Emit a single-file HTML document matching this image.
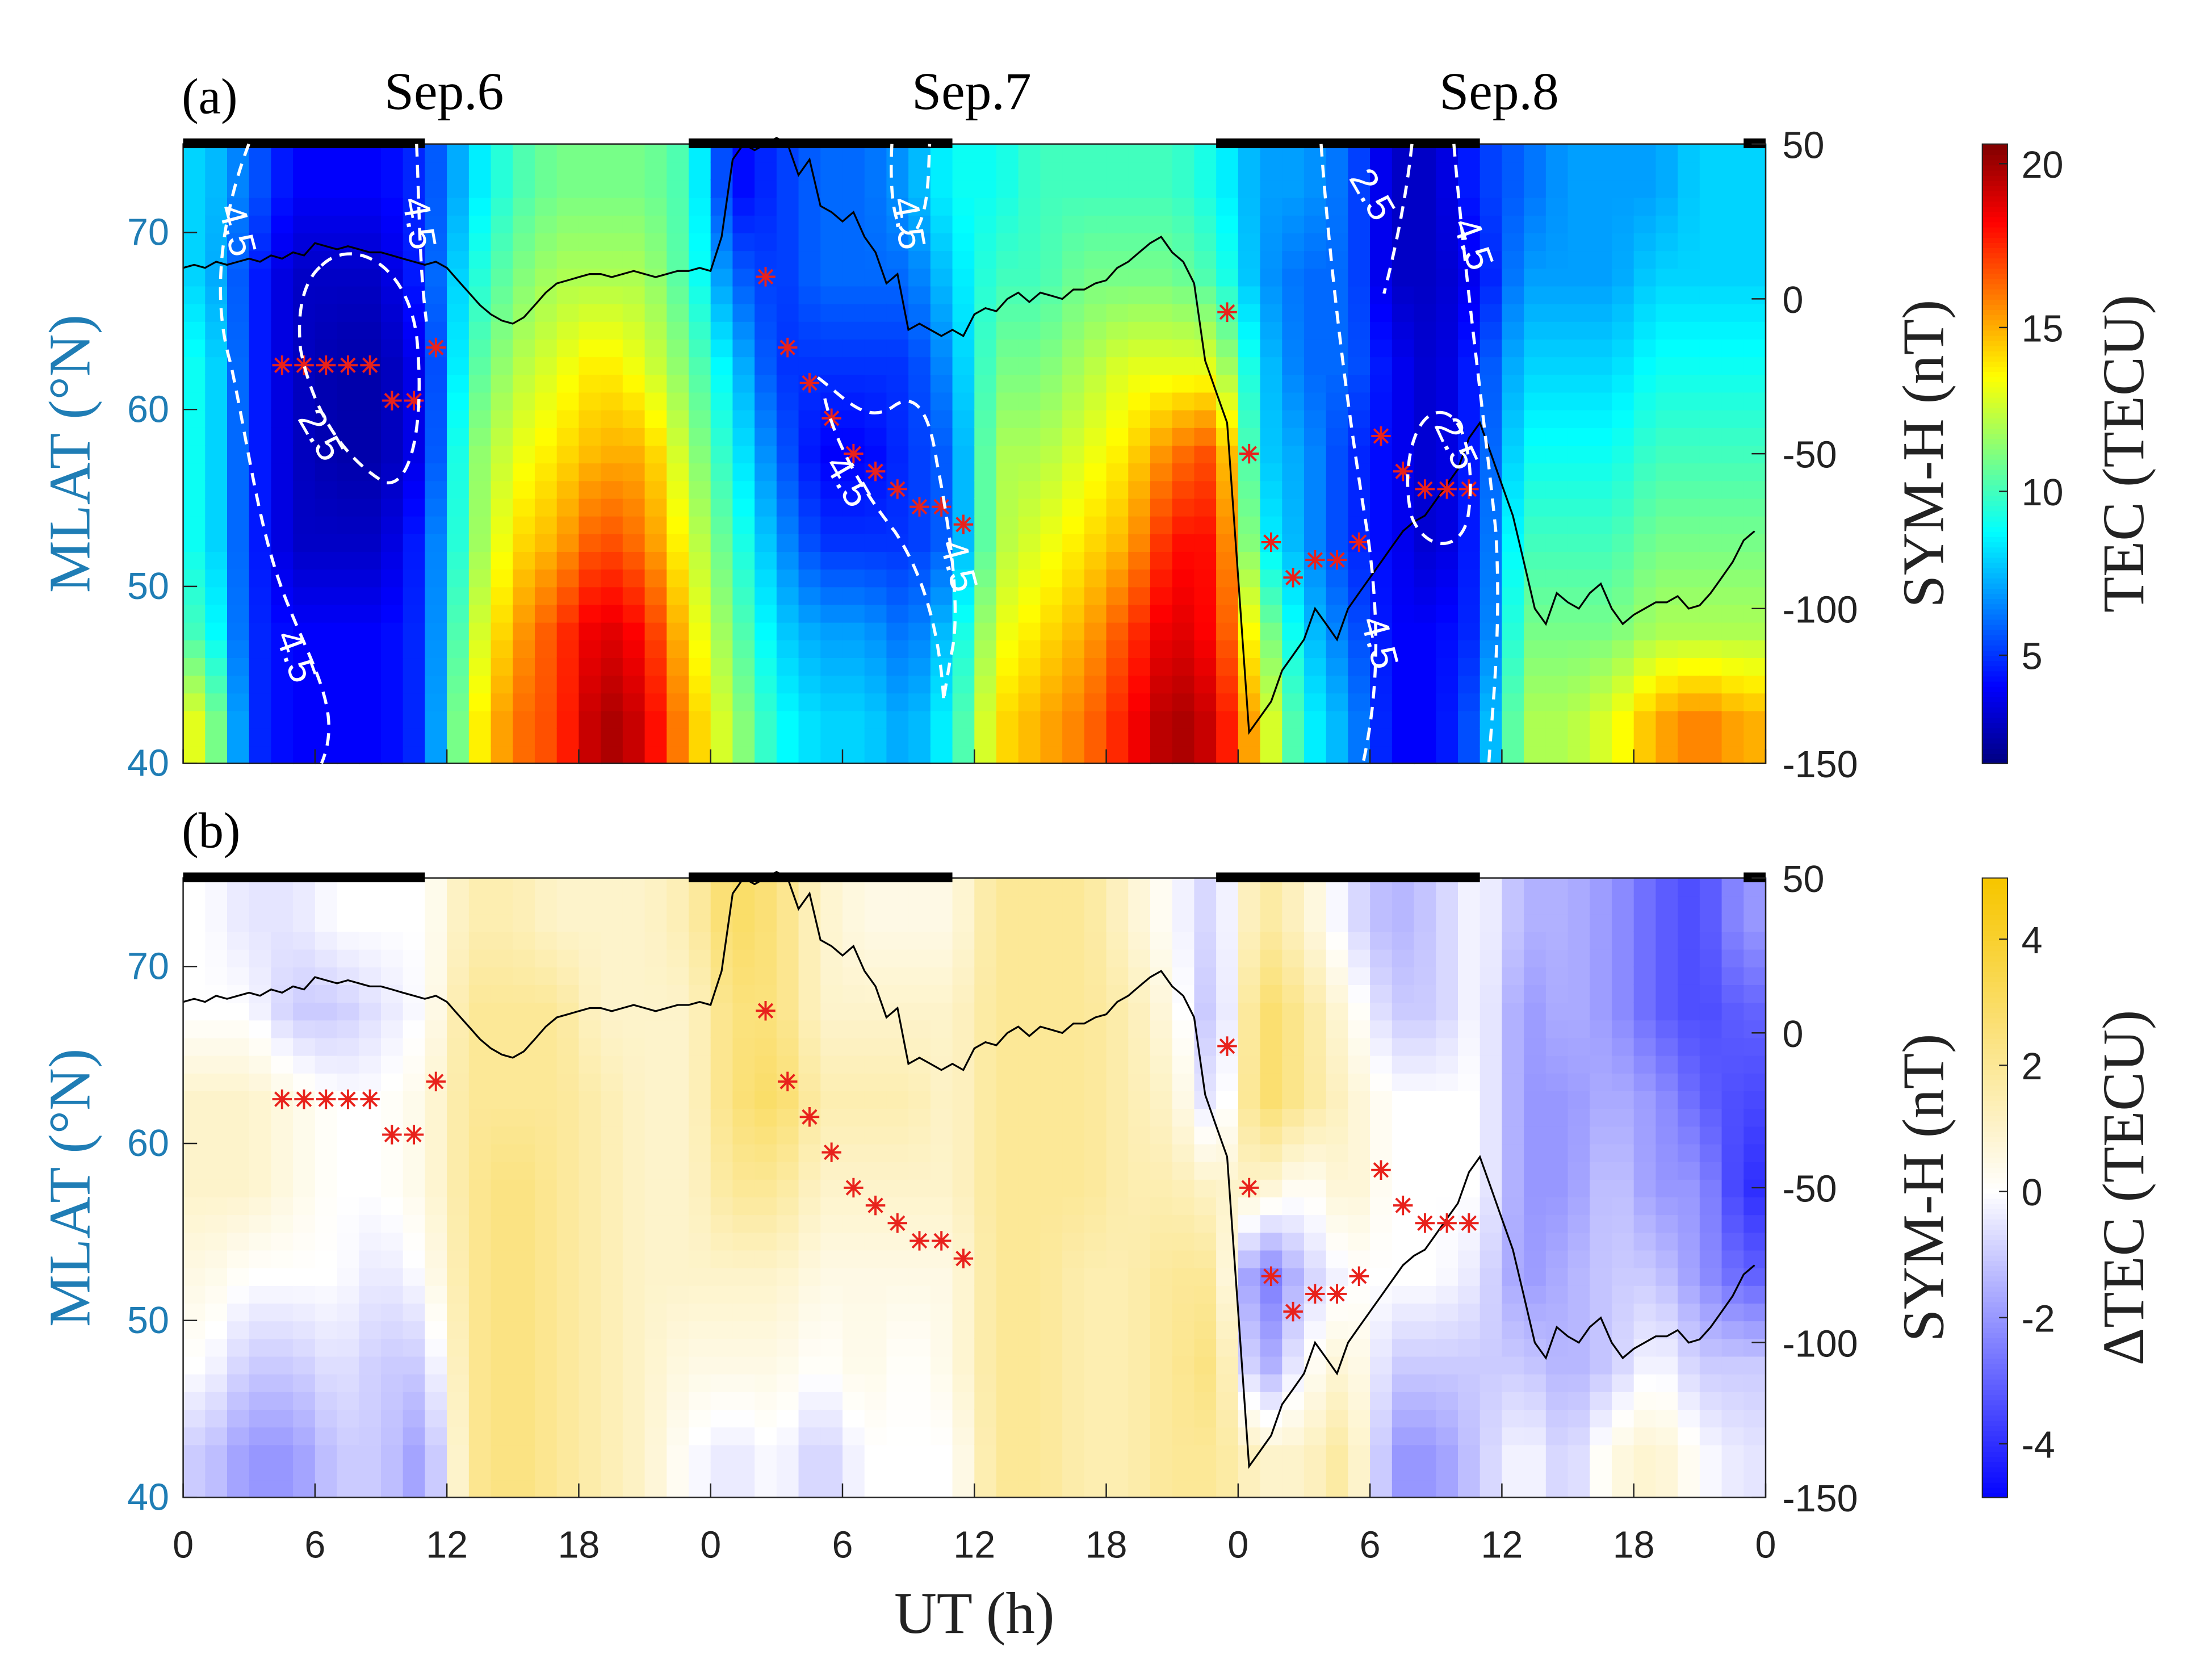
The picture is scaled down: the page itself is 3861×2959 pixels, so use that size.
<!DOCTYPE html>
<html><head><meta charset="utf-8"><style>
html,body{margin:0;padding:0;background:#fff;}
svg{display:block;}
.tk{font-family:"Liberation Sans",sans-serif;font-size:27px;}
.sf{font-family:"Liberation Serif",serif;}
</style></head><body>
<svg id="chart" width="3861" height="2959" viewBox="0 0 1568 1201.6" preserveAspectRatio="none" xmlns="http://www.w3.org/2000/svg">
<g id="layer"></g>
</svg>
<script>
// ---- data ----
const dayLabels = ["Sep.6","Sep.7","Sep.8"];
const xTickLabels = ["0","6","12","18","0","6","12","18","0","6","12","18","0"];
const latTicks = [40,50,60,70];
const symTicks = [50,0,-50,-100,-150];
const tecTicks = [5,10,15,20];
const dtecTicks = [4,2,0,-2,-4];
// TEC per 2-hour column, rows bottom (40-45) -> top (70-75)
const tecGrid = [
[13,10,9,9,9,8,8],[5,5,5,5,5,5,6],[4,4,3,3,3,3,4],[4,4,3,2.5,2.5,3,4],[4,4,3,2.5,2.5,3,4],[5,5,5,4,4,5,5],
[13,12,11,11,10,9,8],[16,15,14,13,12,11,10],[17,17,15,14,13,12,11],[20,19,17,15,14,12,11],[19,18,16,15,13,12,11],[15,14,13,12,11,10,10],
[12,11,10,9,8,6,4],[9,8,7,6,5,5,5],[8,7,5,4,5,6,6],[8,7,5,4,5,6,6],[7,6,5,5,5,6,7],[9,8,6,6,7,8,9],
[14,13,12,12,11,10,9],[15,14,13,12,11,10,10],[16,15,14,13,12,11,10],[18,17,15,14,13,11,10],[20,19,18,16,13,11,10],[19,18,18,17,13,10,9],
[14,12,9,8,8,7,7],[9,8,7,7,6,6,7],[7,6,5,5,6,6,6],[4,4,4,4,4,3,3],[4,4,3,3,3,3,3],[6,5,5,5,5,4,5],
[12,11,10,9,8,7,6],[12,11,10,9,8,7,7],[13,11,10,9,8,7,7],[15,12,11,10,9,8,7],[16,12,11,10,9,8,8],[15,12,11,10,9,8,8]];
const dtecGrid = [
[-1,0,0.5,1,1,0,0],[-2,-1,0,1,1,0,-0.5],[-2,-1,0,0.5,0.5,-1,-0.5],[-1,-0.5,0,0,0,-1,0],[-1,-1,-0.5,0,0,-0.5,0],[-2,-1,0,0.5,0.5,0,0],
[2,2,2,2,2,2,1.5],[2.5,2.5,2.5,2.5,2,2,1.5],[2,2,2,2,2,2,1],[1.5,1.5,1.5,1.5,1.5,1,1],[1,1,1,1,1,1,1],[0,0.5,1,1,1,1,1.5],
[-0.5,0.5,1,2,2.5,2.5,3],[0,0.5,1,2,3,2.5,2.5],[-1,0,0.5,1,1.5,1,1],[0,0.5,0.5,1,1.5,1,0.5],[0,0,0.5,1,1.5,1,0.5],[0,0.5,0.5,1,1,1,0.5],
[2,2,2,2,2,2,2],[2,2,2,2,2,2,2],[1.5,1.5,1.5,2,2,2,2],[1.5,1.5,1.5,1.5,1.5,1.5,1],[2,2,2,1.5,1,0.5,0],[2,2.5,2,1,-1,-1.5,-1],
[1,-2,-3,1,3,3,2],[1,0,-1,0,2,2,1],[2,1,0,1,1,0.5,-0.5],[-2,-1,0,0,0,-1,-1.5],[-2,-1,0,0,0,-1,-1],[-1,-1,-0.5,0,0,0,0],
[0,-1,-2,-2,-2,-2,-1.5],[-1,-1.5,-1.5,-2,-2,-1.5,-1.5],[0.5,-1,-1,-1,-1.5,-2,-2],[1,0,-1,-2,-2,-3,-3],[0,-1,-2,-2,-3,-3.5,-3.5],[-0.5,-1,-3,-4,-3.5,-3,-2]];
// half-hourly SYM-H (nT), hour 0..72 step 0.5
const symH = [10,11,10,12,11,12,13,12,14,13,15,14,18,17,16,17,16,15,15,14,13,12,11,12,10,6,2,-2,-5,-7,-8,-6,-2,2,5,6,7,8,8,7,8,9,8,7,8,9,9,10,9,
20,45,50,48,50,52,50,40,45,30,28,25,28,20,15,5,8,-10,-8,-10,-12,-10,-12,-5,-3,-4,0,2,-1,2,1,0,3,3,5,6,10,12,15,18,20,15,12,5,-20,-30,-40,
-90,-140,-135,-130,-120,-115,-110,-100,-105,-110,-100,-95,-90,-85,-80,-75,-72,-70,-65,-60,-55,-45,-40,-50,-60,-70,-85,-100,-105,-95,-98,-100,-95,-92,-100,-105,-102,-100,-98,-98,-96,-100,-99,-95,-90,-85,-78,-75];
const starHours = [4.5,5.5,6.5,7.5,8.5,9.5,10.5,11.5,26.5,27.5,28.5,29.5,30.5,31.5,32.5,33.5,34.5,35.5,47.5,48.5,49.5,50.5,51.5,52.5,53.5,54.5,55.5,56.5,57.5,58.5];
const starLats = [62.5,62.5,62.5,62.5,62.5,60.5,60.5,63.5,67.5,63.5,61.5,59.5,57.5,56.5,55.5,54.5,54.5,53.5,65.5,57.5,52.5,50.5,51.5,51.5,52.5,58.5,56.5,55.5,55.5,55.5];

// ---- helpers ----
const NS="http://www.w3.org/2000/svg";
const layer=document.getElementById('layer');
function mk(tag,attrs,parent){const e=document.createElementNS(NS,tag);for(const k in attrs)e.setAttribute(k,attrs[k]);(parent||layer).appendChild(e);return e;}
const X0=131,X1=1263,H=443;
const xS=h=>X0+h*(X1-X0)/72;
const yLat=(l,top)=>top+H-(l-40)/35*H;
const ySym=(v,top)=>top+(50-v)/200*H;
function jet(t){t=Math.max(0,Math.min(1,t));const c=x=>Math.round(255*Math.max(0,Math.min(1,x)));
return `rgb(${c(1.5-Math.abs(4*t-3))},${c(1.5-Math.abs(4*t-2))},${c(1.5-Math.abs(4*t-1))})`;}
function byw(v){let t=Math.max(-1,Math.min(1,v/4.9));
if(t<0){t=-t;return `rgb(${Math.round(255*(1-t))},${Math.round(255*(1-t))},255)`;}
return `rgb(${Math.round(255-8*t)},${Math.round(255-57*t)},${Math.round(255*(1-t))})`;}
function sample(grid,h,l){let ci=(h-1)/2,rj=(l-42.5)/5;
ci=Math.max(0,Math.min(35,ci));rj=Math.max(0,Math.min(6,rj));
const i0=Math.floor(ci),j0=Math.floor(rj),i1=Math.min(35,i0+1),j1=Math.min(6,j0+1),fi=ci-i0,fj=rj-j0;
return (grid[i0][j0]*(1-fi)+grid[i1][j0]*fi)*(1-fj)+(grid[i0][j1]*(1-fi)+grid[i1][j1]*fi)*fj;}

function panel(top,grid,colorFn,label,cbTicks,cbMin,cbMax,cbTitle,tag){
  const g=mk('g',{});
  
  
  const hm=mk('g',{},g);
  
  
  for(let h=0;h<72;h++)for(let l=40;l<75;l++){
    const v=sample(grid,h+0.5,l+0.5);
    const r=mk('rect',{x:xS(h),y:yLat(l+1,top),width:(X1-X0)/72+0.6,height:H/35+0.6,fill:colorFn(v)},hm);
    
    
  }
  let d='';symH.forEach((v,i)=>{d+=(i?'L':'M')+xS(i*0.5).toFixed(1)+','+ySym(v,top).toFixed(1);});
  const ln=mk('path',{d:d,fill:'none',stroke:'#000','stroke-width':1.3},g);
  
  
  starHours.forEach((h,i)=>{const cx=xS(h),cy=yLat(starLats[i],top),s=7;
    const st=mk('path',{d:`M${cx-s},${cy}H${cx+s}M${cx},${cy-s}V${cy+s}M${cx-5},${cy-5}L${cx+5},${cy+5}M${cx-5},${cy+5}L${cx+5},${cy-5}`,stroke:'#e8221c','stroke-width':1.6,fill:'none'},g);
    
    });
  const fr=mk('rect',{x:X0,y:top,width:X1-X0,height:H,fill:'none',stroke:'#222','stroke-width':1},g);
  
  
  [[0,11],[23,35],[47,59],[71,72]].forEach(b=>{const r=mk('rect',{x:xS(b[0]),y:top-4,width:xS(b[1])-xS(b[0]),height:7,fill:'#000'},g);
    
    });
  latTicks.forEach(l=>{const y=yLat(l,top);
    mk('line',{x1:X0,x2:X0+10,y1:y,y2:y,stroke:'#222'},g);
    const t=mk('text',{x:X0-10,y:y+9,'text-anchor':'end',class:'tk',fill:'#1f7db5'},g);t.textContent=l;
    
    });
  const yl=mk('text',{x:0,y:0,transform:`translate(64,${top+H/2}) rotate(-90)`,'text-anchor':'middle',class:'sf','font-size':42,fill:'#1f7db5'},g);
  yl.textContent='MLAT (°N)';
  
  
  symTicks.forEach(v=>{const y=ySym(v,top);
    mk('line',{x1:X1-10,x2:X1,y1:y,y2:y,stroke:'#222'},g);
    const t=mk('text',{x:X1+12,y:y+10,class:'tk',fill:'#222'},g);t.textContent=v;
    
    });
  const yr=mk('text',{x:0,y:0,transform:`translate(1390,${top+H/2}) rotate(-90)`,'text-anchor':'middle',class:'sf','font-size':42,fill:'#222'},g);
  yr.textContent='SYM-H (nT)';
  
  
  xTickLabels.forEach((s,i)=>{const x=xS(i*6);mk('line',{x1:x,x2:x,y1:top+H,y2:top+H-10,stroke:'#222'},g);});
  const cb=mk('g',{},g);
  
  
  const n=120;for(let k=0;k<n;k++){const v=cbMin+(cbMax-cbMin)*(k+0.5)/n;
    mk('rect',{x:1418,y:top+H-(k+1)*H/n,width:18,height:H/n+0.6,fill:colorFn(v)},cb);}
  mk('rect',{x:1418,y:top,width:18,height:H,fill:'none',stroke:'#222','stroke-width':0.8},cb);
  cbTicks.forEach(v=>{const y=top+H-(v-cbMin)/(cbMax-cbMin)*H;
    mk('line',{x1:1430,x2:1436,y1:y,y2:y,stroke:'#222'},cb);
    const t=mk('text',{x:1446,y:y+10,class:'tk',fill:'#222'},cb);t.textContent=v;
    
    });
  const ct=mk('text',{x:0,y:0,transform:`translate(1533,${top+H/2}) rotate(-90)`,'text-anchor':'middle',class:'sf','font-size':42,fill:'#222'},g);
  ct.textContent=cbTitle;
  
  
  const pl=mk('text',{x:130,y:top-22,class:'sf','font-size':36,fill:'#000'},g);pl.textContent=label;
  
  
  return g;
}
panel(103,tecGrid,v=>jet((v-1.7)/(20.6-1.7)),'(a)',tecTicks,1.7,20.6,'TEC (TECU)','a');
panel(628,dtecGrid,byw,'(b)',dtecTicks,-4.85,4.97,'ΔTEC (TECU)','b');

dayLabels.forEach((s,i)=>{const t=mk('text',{x:xS(12+24*i)-2,y:78,'text-anchor':'middle',class:'sf','font-size':38,fill:'#000'});t.textContent=s;
  
  });
xTickLabels.forEach((s,i)=>{const t=mk('text',{x:xS(i*6),y:1114,'text-anchor':'middle',class:'tk',fill:'#222'});t.textContent=s;
  
  });
const xt=mk('text',{x:697,y:1168,'text-anchor':'middle',class:'sf','font-size':42,fill:'#222'});xt.textContent='UT (h)';



const cg=mk('g',{fill:'none',stroke:'#fff','stroke-width':2.2,'stroke-dasharray':'9,6'});


['M178,103 C160,150 150,210 165,260 C178,320 185,380 205,430 C225,480 245,510 230,546',
 'M230,190 C250,170 290,185 298,240 C304,300 295,350 275,345 C250,330 225,300 215,250 C212,220 218,200 230,190',
 'M298,103 C300,150 300,190 305,230',
 'M638,103 C636,140 640,175 655,165 C665,150 664,120 665,103',
 'M585,270 C605,285 620,305 640,290 C655,280 665,295 670,330 C680,380 688,440 680,470 L675,500 M590,285 C598,320 620,355 640,380 C660,410 672,450 675,500',
 'M945,103 C952,200 965,300 978,380 C988,450 985,500 975,546',
 'M1010,103 C1005,150 995,190 990,210',
 'M1040,103 C1048,200 1062,300 1070,380 C1074,450 1068,500 1065,546',
 'M1030,295 C1050,295 1055,340 1050,370 C1045,395 1020,395 1010,370 C1002,340 1010,295 1030,295'
].forEach(d=>{const p=mk('path',{d:d},cg);});
[['4.5',168,165,75],['2.5',228,312,60],['4.5',298,160,80],['4.5',210,470,70],['4.5',648,160,80],['4.5',605,345,60],['4.5',684,405,75],['2.5',980,140,60],['4.5',1052,175,70],['2.5',1040,318,65],['4.5',985,460,75]]
.forEach(a=>{const t=mk('text',{x:a[1],y:a[2],transform:`rotate(${a[3]} ${a[1]} ${a[2]})`,'text-anchor':'middle',class:'tk','font-size':24,fill:'#fff','dominant-baseline':'middle'});t.textContent=a[0];
  
  });
</script>
</body></html>
